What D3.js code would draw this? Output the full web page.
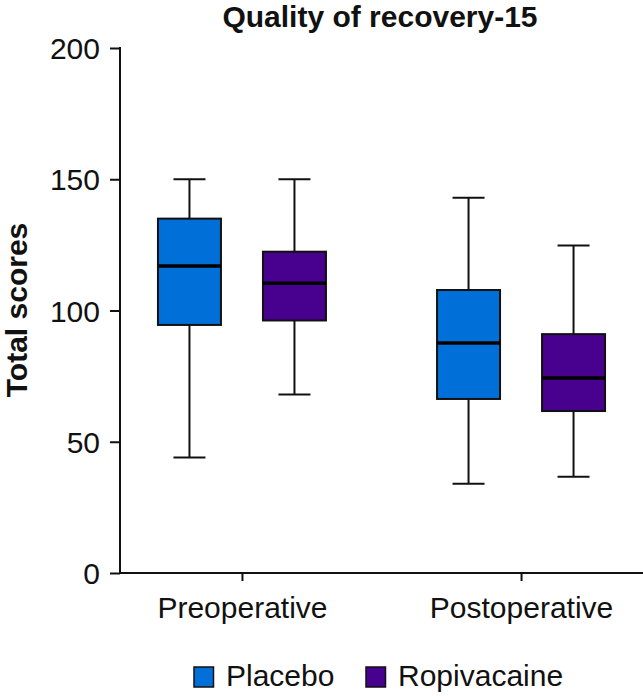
<!DOCTYPE html>
<html><head><meta charset="utf-8">
<script src="https://cdn.jsdelivr.net/npm/d3@7"></script>
<style>body{margin:0;background:#fff}svg{display:block}text{font-family:"Liberation Sans",Arial,sans-serif}</style>
</head><body>
<script>
const categories = ["Preoperative", "Postoperative"];
const seriesNames = ["Placebo", "Ropivacaine"];
const seriesColors = ["#006fd8", "#48008f"];
// [min, q1, median, q3, max] per category
const placeboStats = [[44, 94.5, 117, 135, 150], [34, 66.3, 87.6, 107.8, 143]];
const ropivacaineStats = [[68, 96.2, 110.4, 122.4, 150], [36.7, 61.7, 74.3, 91, 124.8]];
const yTicks = [0, 50, 100, 150, 200];

const W = 643, H = 696;
const svg = d3.select("body").append("svg").attr("width", W).attr("height", H);
const y = d3.scaleLinear().domain([0, 200]).range([573, 48]);
const x = d3.scalePoint().domain(categories).range([120, 643]).padding(0.437);
const sub = d3.scalePoint().domain(seriesNames).range([-52.5, 52.5]);
const boxW = 63, capW = 32;

// y axis
const yAxis = svg.append("g").attr("transform", "translate(120,0)")
  .call(d3.axisLeft(y).tickValues(yTicks).tickSize(10).tickPadding(10));
yAxis.select(".domain").attr("stroke", "#111").attr("stroke-width", 2).attr("d", "M0,47V574");
yAxis.selectAll(".tick line").attr("stroke", "#111").attr("stroke-width", 2);
yAxis.selectAll(".tick text").attr("font-size", 30).attr("fill", "#111").attr("dy", "0.35em");

// x axis
const xAxis = svg.append("g").attr("transform", "translate(0,573)")
  .call(d3.axisBottom(x).tickSize(8).tickPadding(0));
xAxis.select(".domain").attr("stroke", "#111").attr("stroke-width", 2).attr("d", "M119,0H643");
xAxis.selectAll(".tick line").attr("stroke", "#111").attr("stroke-width", 2);
xAxis.selectAll(".tick text").attr("font-size", 30).attr("fill", "#111").attr("dy", null).attr("y", 45);

const allStats = [placeboStats, ropivacaineStats];
allStats.forEach((stats, si) => {
  stats.forEach((s, ci) => {
    const cx = x(categories[ci]) + sub(seriesNames[si]);
    const [mn, q1, md, q3, mx] = s;
    const g = svg.append("g");
    g.append("line").attr("x1", cx).attr("x2", cx).attr("y1", y(mx)).attr("y2", y(q3)).attr("stroke", "#111").attr("stroke-width", 2);
    g.append("line").attr("x1", cx).attr("x2", cx).attr("y1", y(q1)).attr("y2", y(mn)).attr("stroke", "#111").attr("stroke-width", 2);
    g.append("line").attr("x1", cx - capW/2).attr("x2", cx + capW/2).attr("y1", y(mx)).attr("y2", y(mx)).attr("stroke", "#111").attr("stroke-width", 2);
    g.append("line").attr("x1", cx - capW/2).attr("x2", cx + capW/2).attr("y1", y(mn)).attr("y2", y(mn)).attr("stroke", "#111").attr("stroke-width", 2);
    g.append("rect").attr("x", cx - boxW/2).attr("width", boxW).attr("y", y(q3)).attr("height", y(q1) - y(q3))
      .attr("fill", seriesColors[si]).attr("stroke", "#111").attr("stroke-width", 2);
    g.append("line").attr("x1", cx - boxW/2).attr("x2", cx + boxW/2).attr("y1", y(md)).attr("y2", y(md)).attr("stroke", "#000").attr("stroke-width", 3.5);
  });
});

// title
svg.append("text").attr("x", 380).attr("y", 27).attr("text-anchor", "middle")
  .attr("font-size", 30).attr("font-weight", "bold").attr("fill", "#111").text("Quality of recovery-15");
// y title
svg.append("text").attr("transform", "translate(27,310) rotate(-90)").attr("text-anchor", "middle")
  .attr("font-size", 30).attr("font-weight", "bold").attr("fill", "#111").text("Total scores");

// legend
const legX = [194, 366];
seriesNames.forEach((n, i) => {
  svg.append("rect").attr("x", legX[i]).attr("y", 667).attr("width", 19.5).attr("height", 20)
    .attr("fill", seriesColors[i]).attr("stroke", "#111").attr("stroke-width", 1.5);
  svg.append("text").attr("x", legX[i] + 32).attr("y", 686).attr("font-size", 30).attr("fill", "#111").text(n);
});
</script>
</body></html>
